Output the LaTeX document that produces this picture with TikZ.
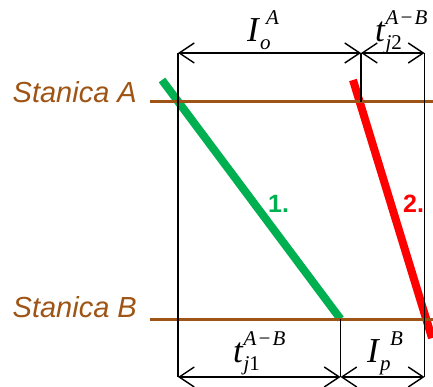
\documentclass[tikz,border=0pt]{standalone}
\usepackage{fontspec}
\setsansfont{Liberation Sans}
\newfontfamily\dimfont{Liberation Serif}
\usepackage{xcolor}
\usetikzlibrary{arrows.meta,positioning}

\definecolor{stationbrown}{RGB}{158,84,20}
\definecolor{trainone}{RGB}{0,176,80}
\definecolor{traintwo}{RGB}{255,0,0}

% symbol with superscript and subscript: [sup shift]{base}{sup}{sub}
\newcommand\dimscript{\fontsize{21}{21}\selectfont\itshape}
\newcommand\dimsym[4][0pt]{\textit{#2}%
  \rlap{\kern#1\raisebox{17pt}{\dimscript #3}}%
  \raisebox{-8pt}{\dimscript #4}}

\tikzset{
  station/.style={stationbrown,line width=3pt},
  stationlabel/.style={stationbrown,inner sep=0pt,anchor=base east,
    font=\fontsize{29}{29}\selectfont\sffamily\itshape},
  train/.style={line width=8pt},
  trainlabel/.style={inner sep=0pt,anchor=base west,
    font=\fontsize{25}{25}\selectfont\sffamily\bfseries},
  guide/.style={line width=1.4pt},
  dimline/.style={line width=1.4pt,
    {Straight Barb[length=15pt,width=20pt]}-{Straight Barb[length=15pt,width=20pt]}},
  dimlabel/.style={inner sep=0pt,anchor=base west,
    font=\dimfont\fontsize{35}{35}\selectfont}
}

\begin{document}
\begin{tikzpicture}[x=1pt,y=-1pt]
  \useasboundingbox (0,0) rectangle (433,387);

  % stations
  \coordinate (aW) at (150,102);
  \coordinate (aE) at (433,102);
  \coordinate (bW) at (150,319);
  \coordinate (bE) at (433,319);
  \node[stationlabel] (staA) at (137,103) {Stanica A};
  \node[stationlabel] (staB) at (137,317) {Stanica B};

  % trains
  \coordinate (oneS) at (162,80);
  \coordinate (oneE) at (340.5,319);
  \coordinate (twoS) at (353,80);
  \coordinate (twoE) at (432,338);
  \draw[train,trainone] (oneS) -- (oneE);
  \draw[train,traintwo] (twoS) -- (twoE);
  \node[trainlabel,trainone] (one) at (268,212) {1.};
  \node[trainlabel,traintwo] (two) at (403,212) {2.};

  \draw[station] (aW) -- (aE);
  \draw[station] (bW) -- (bE);

  % guides
  \coordinate (topL) at (178,53);
  \coordinate (topM) at (361,53);
  \coordinate (topR) at (424.5,53);
  \coordinate (botL) at (178,377);
  \coordinate (botM) at (340.5,377);
  \coordinate (botR) at (424.5,377);
  \coordinate (midA) at (361,102);
  \draw[guide] (topL) -- (botL);
  \draw[guide] (topR) -- (botR);
  \draw[guide] (topM) -- (midA);
  \draw[guide] (oneE) -- (botM);

  % dimensions
  \draw[dimline] (topL) -- (topM);
  \draw[dimline] (topM) -- (topR);
  \draw[dimline] (botL) -- (botM);
  \draw[dimline] (botM) -- (botR);
  \node[dimlabel] (occA) at (247,42) {\dimsym[6pt]{I}{A}{o}};
  \node[dimlabel] (runTwo) at (375,42) {\dimsym{t}{A\kern1pt−\kern1pt B}{j{\upshape 2}}};
  \node[dimlabel] (runOne) at (233,362) {\dimsym{t}{A\kern1pt−\kern1pt B}{j{\upshape 1}}};
  \node[dimlabel] (occB) at (367,362) {\dimsym[10pt]{I}{B}{p}};
\end{tikzpicture}
\end{document}
